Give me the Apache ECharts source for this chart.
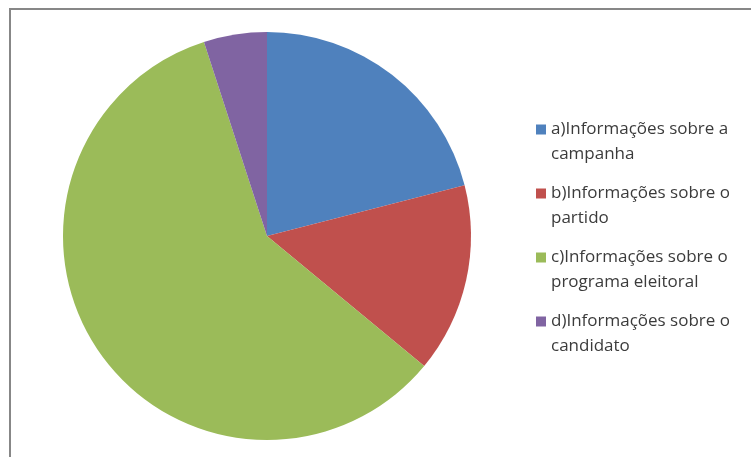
<!DOCTYPE html>
<html>
<head>
<meta charset="utf-8">
<script src="https://cdn.jsdelivr.net/npm/echarts@6/dist/echarts.min.js"></script>
<style>
  html, body { margin: 0; padding: 0; background: #fff; }
  #chart { width: 751px; height: 457px; }
</style>
</head>
<body>
<div id="chart"></div>
<script>
// Category names (legend wraps onto two lines) and shares in percent
const categories = [
  'a)Informações sobre a\ncampanha',
  'b)Informações sobre o\npartido',
  'c)Informações sobre o\nprograma eleitoral',
  'd)Informações sobre o\ncandidato'
];
const values = [21, 15, 59, 5];
const colors = ['#4f81bd', '#c0504d', '#9bbb59', '#8064a2'];

const chart = echarts.init(document.getElementById('chart'), null, { renderer: 'canvas' });

chart.setOption({
  animation: false,
  backgroundColor: '#ffffff',
  color: colors,
  graphic: [{
    type: 'rect',
    shape: { x: 10, y: 9, width: 800, height: 500 },
    style: { fill: 'none', stroke: '#878787', lineWidth: 2 },
    silent: true
  }],
  legend: {
    orient: 'vertical',
    left: 536,
    top: 92,
    padding: 0,
    icon: 'rect',
    itemWidth: 10,
    itemHeight: 10,
    itemGap: -11,
    selectedMode: false,
    // a blank leading line keeps the marker level with the first text line
    formatter: name => '\n' + name,
    textStyle: {
      fontFamily: 'Open Sans',
      fontSize: 17,
      lineHeight: 25,
      color: '#3b3b3b'
    },
    data: categories
  },
  series: [{
    type: 'pie',
    center: [267, 236],
    radius: 204,
    startAngle: 90,
    clockwise: true,
    label: { show: false },
    labelLine: { show: false },
    emphasis: { disabled: true },
    itemStyle: { borderWidth: 0 },
    data: categories.map((name, i) => ({ name: name, value: values[i] }))
  }]
});
</script>
</body>
</html>
